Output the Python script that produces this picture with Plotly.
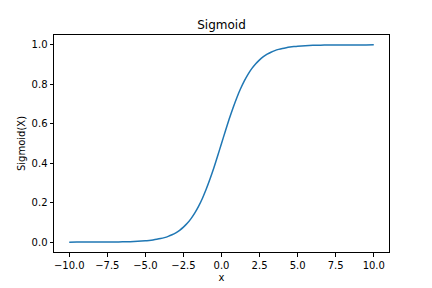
import plotly.graph_objects as go

x_vals = [-10.0, -9.5, -9.0, -8.5, -8.0, -7.5, -7.0, -6.5, -6.0, -5.5, -5.0,
          -4.75, -4.5, -4.25, -4.0, -3.75, -3.5, -3.25, -3.0, -2.75, -2.5, -2.25,
          -2.0, -1.75, -1.5, -1.25, -1.0, -0.75, -0.5, -0.25, 0.0,
          0.25, 0.5, 0.75, 1.0, 1.25, 1.5, 1.75, 2.0, 2.25, 2.5, 2.75,
          3.0, 3.25, 3.5, 3.75, 4.0, 4.25, 4.5, 4.75, 5.0,
          5.5, 6.0, 6.5, 7.0, 7.5, 8.0, 8.5, 9.0, 9.5, 10.0]
y_vals = [0.0000, 0.0001, 0.0001, 0.0002, 0.0003, 0.0006, 0.0009, 0.0015, 0.0025, 0.0041, 0.0067,
          0.0086, 0.0110, 0.0141, 0.0180, 0.0230, 0.0293, 0.0373, 0.0474, 0.0601, 0.0759, 0.0953,
          0.1192, 0.1480, 0.1824, 0.2227, 0.2689, 0.3208, 0.3775, 0.4378, 0.5000,
          0.5622, 0.6225, 0.6792, 0.7311, 0.7773, 0.8176, 0.8520, 0.8808, 0.9047, 0.9241, 0.9399,
          0.9526, 0.9627, 0.9707, 0.9770, 0.9820, 0.9859, 0.9890, 0.9914, 0.9933,
          0.9959, 0.9975, 0.9985, 0.9991, 0.9994, 0.9997, 0.9998, 0.9999, 0.9999, 1.0000]
x_ticks = [-10.0, -7.5, -5.0, -2.5, 0.0, 2.5, 5.0, 7.5, 10.0]
y_ticks = [0.0, 0.2, 0.4, 0.6, 0.8, 1.0]

font = dict(family="DejaVu Sans", size=10, color="black")

fig = go.Figure()
fig.add_trace(go.Scatter(x=x_vals, y=y_vals, mode="lines",
                         line=dict(color="#1f77b4", width=1.5, shape="spline", smoothing=0.6)))

axis_common = dict(showgrid=False, zeroline=False, showline=True, linecolor="black",
                   linewidth=1, mirror=True, ticks="outside", ticklen=3.5, tickwidth=1,
                   tickcolor="black", tickfont=font, tickformat=".1f", automargin=False)

fig.update_layout(
    width=432, height=288,
    margin=dict(l=54, r=43, t=35, b=36, autoexpand=False),
    plot_bgcolor="white", paper_bgcolor="white",
    showlegend=False,
    font=font,
    title=dict(text="Sigmoid", x=0.5, xanchor="center", xref="paper",
               y=1 - 24.5 / 288, yanchor="middle", yref="container",
               font=dict(family="DejaVu Sans", size=12, color="black")),
    xaxis=dict(range=[-11, 11], tickvals=x_ticks,
               title=dict(text="x", font=font, standoff=4), **axis_common),
    yaxis=dict(range=[-0.05, 1.05], tickvals=y_ticks,
               title=dict(text="Sigmoid(X)", font=font, standoff=4), **axis_common),
)

fig.write_html("out.html")
